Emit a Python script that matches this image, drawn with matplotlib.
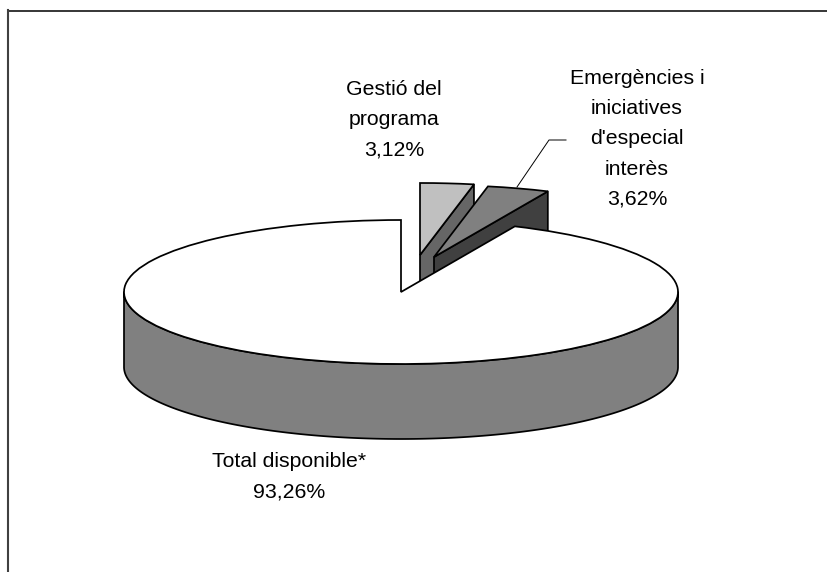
import numpy as np
import matplotlib
matplotlib.use('Agg')
import matplotlib.pyplot as plt

plt.rcParams['font.family'] = ['Liberation Sans', 'DejaVu Sans']

labels = ['Total disponible*', "Emergències i\niniciatives\nd'especial\ninterès", 'Gestió del\nprograma']
values = [93.26, 3.62, 3.12]
value_text = ['93,26%', '3,62%', '3,12%']

W, H = 827, 572
# pie ellipse in pixels
cx, cy, rx, ry = 401, 292, 277, 72
depth = 75 / ry
# how far the two small slices were pulled out, in pie units
shift = {1: (33 / rx, 35 / ry), 2: (19 / rx, 37 / ry)}
top_col = ['white', '#808080', '#c0c0c0']
face_col = ['#808080', '#404040', '#666666']
lw = 1.25


def fig_xy(x, y):
    return x / W, 1 - y / H


def wall(ax, xs, ys, col, z):
    xs = np.asarray(xs)
    ys = np.asarray(ys)
    ax.fill(np.r_[xs, xs[::-1]], np.r_[ys, ys[::-1] - depth], fc=col, ec='black',
            lw=lw, zorder=z, joinstyle='round')


fig = plt.figure(figsize=(W / 100, H / 100), dpi=100)
ax = fig.add_axes([0, 0, 1, 1])

wedges, _ = ax.pie(values, startangle=90, colors=top_col, radius=1,
                   wedgeprops={'edgecolor': 'black', 'linewidth': lw})
ax.set_aspect('auto')
ax.set_xlim(-cx / rx, (W - cx) / rx)
ax.set_ylim(-(H - cy) / ry, cy / ry)
ax.axis('off')

# small slices first (back), then the big one over them
for i, z_base in [(2, 2), (1, 4)]:
    w = wedges[i]
    dx, dy = shift[i]
    w.set_center((dx, dy))
    w.set_zorder(z_base + 1)
    t = np.deg2rad(w.theta1)
    wall(ax, [dx, dx + np.cos(t)], [dy, dy + np.sin(t)], face_col[i], z_base)

t = np.deg2rad(np.linspace(180, 360, 300))
wall(ax, np.cos(t), np.sin(t), face_col[0], 6)
wedges[0].set_zorder(7)

# chart area border, only top and left show in the crop
fig.add_artist(plt.Line2D([8 / W, 1], [1 - 10.5 / H] * 2, color='black', lw=1.1))
fig.add_artist(plt.Line2D([8 / W, 8 / W], [0, 1 - 10 / H], color='#404040', lw=1.5))

fs = 15.3
ls = 1.74
fig.text(*fig_xy(289, 477), labels[0] + '\n' + value_text[0], ha='center', va='center',
         fontsize=fs, linespacing=ls)
fig.text(*fig_xy(637, 139), labels[1] + '\n' + value_text[1], ha='center', va='center',
         fontsize=fs, linespacing=ls)
fig.text(*fig_xy(394, 119.5), labels[2] + '\n' + value_text[2], ha='center', va='center',
         fontsize=fs, linespacing=ls)

# leader line for the emergencies label
fig.add_artist(plt.Line2D([517 / W, 549 / W, 566 / W], [1 - 187 / H, 1 - 140 / H, 1 - 140 / H],
                          color='black', lw=0.7))

fig.savefig('out.png', dpi=100)
